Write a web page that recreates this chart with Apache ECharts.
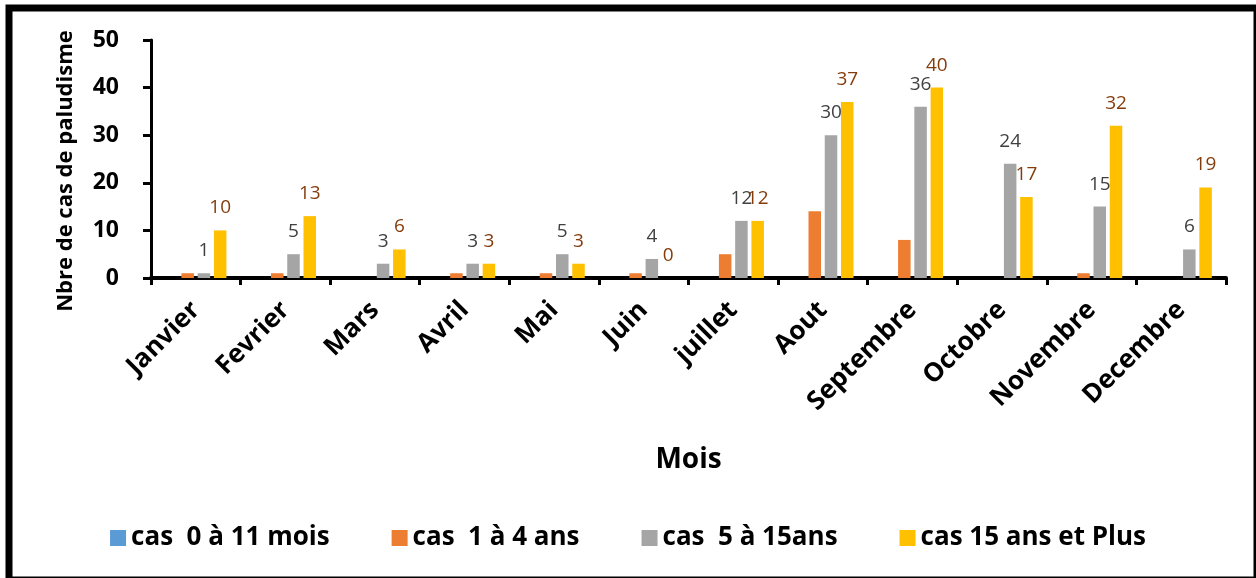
<!DOCTYPE html>
<html>
<head>
<meta charset="utf-8">
<script src="https://cdn.jsdelivr.net/npm/echarts@6/dist/echarts.min.js"></script>
<style>
  html, body { margin: 0; padding: 0; background: #ffffff; }
  #chart { width: 1256px; height: 578px; }
</style>
</head>
<body>
<div id="chart"></div>
<script>
// Cas de paludisme par mois et par tranche d'âge
const months = ['Janvier', 'Fevrier', 'Mars', 'Avril', 'Mai', 'Juin', 'juillet',
                'Aout', 'Septembre', 'Octobre', 'Novembre', 'Decembre'];
const cas0a11mois = [0, 0, 0, 0, 0, 0, 0, 0, 0, 0, 0, 0];
const cas1a4ans   = [1, 1, 0, 1, 1, 1, 5, 14, 8, 0, 1, 0];
const cas5a15ans  = [1, 5, 3, 3, 5, 4, 12, 30, 36, 24, 15, 6];
const cas15plus   = [10, 13, 6, 3, 3, 0, 12, 37, 40, 17, 32, 19];
const yTicks = { min: 0, max: 50, interval: 10 };

const FONT = '"Open Sans", "Noto Sans", sans-serif';

function barSeries(name, data, color, labelColor) {
  return {
    name: name,
    type: 'bar',
    data: data,
    barWidth: 12.5,
    barGap: '30%',
    itemStyle: { color: color },
    label: labelColor ? {
      show: true,
      position: 'top',
      distance: 13,
      color: labelColor,
      fontFamily: FONT,
      fontSize: 19
    } : { show: false }
  };
}

const chart = echarts.init(document.getElementById('chart'), null, { renderer: 'canvas' });
chart.setOption({
  animation: false,
  backgroundColor: '#ffffff',
  textStyle: { fontFamily: FONT },
  graphic: [{
    type: 'rect',
    shape: { x: 9, y: 8, width: 1248, height: 572 },
    style: { fill: 'none', stroke: '#000000', lineWidth: 7 },
    silent: true,
    z: 100
  }],
  grid: { left: 151, right: 30, top: 40, bottom: 300, containLabel: false },
  legend: {
    bottom: 22,
    left: 'center',
    itemWidth: 16,
    itemHeight: 16,
    itemGap: 62,
    icon: 'rect',
    textStyle: { fontFamily: FONT, fontWeight: 'bold', fontSize: 26, color: '#000000' },
    data: ['cas  0 à 11 mois', 'cas  1 à 4 ans', 'cas  5 à 15ans', 'cas 15 ans et Plus']
  },
  xAxis: {
    type: 'category',
    data: months,
    name: 'Mois',
    nameLocation: 'middle',
    nameGap: 168,
    nameTextStyle: { fontFamily: FONT, fontWeight: 'bold', fontSize: 28, color: '#000000' },
    axisLine: { lineStyle: { color: '#000000', width: 4 } },
    axisTick: { show: true, length: 7, lineStyle: { color: '#000000', width: 3 } },
    axisLabel: {
      rotate: 45,
      margin: 28,
      fontFamily: FONT,
      fontWeight: 'bold',
      fontSize: 26,
      color: '#000000',
      interval: 0
    }
  },
  yAxis: {
    type: 'value',
    min: yTicks.min,
    max: yTicks.max,
    interval: yTicks.interval,
    name: 'Nbre de cas de paludisme',
    nameLocation: 'middle',
    nameGap: 74,
    nameTextStyle: { fontFamily: FONT, fontWeight: 'bold', fontSize: 22, color: '#000000', padding: [0, 24, 0, 0] },
    splitLine: { show: false },
    axisLine: { show: true, lineStyle: { color: '#000000', width: 3 } },
    axisTick: { show: true, length: 8, lineStyle: { color: '#000000', width: 3 } },
    axisLabel: {
      margin: 32,
      fontFamily: FONT,
      fontWeight: 'bold',
      fontSize: 23,
      color: '#000000'
    }
  },
  series: [
    barSeries('cas  0 à 11 mois', cas0a11mois, '#5B9BD5', null),
    barSeries('cas  1 à 4 ans', cas1a4ans, '#ED7D31', null),
    barSeries('cas  5 à 15ans', cas5a15ans, '#A5A5A5', '#404040'),
    barSeries('cas 15 ans et Plus', cas15plus, '#FFC000', '#843C0C')
  ]
});
</script>
</body>
</html>
